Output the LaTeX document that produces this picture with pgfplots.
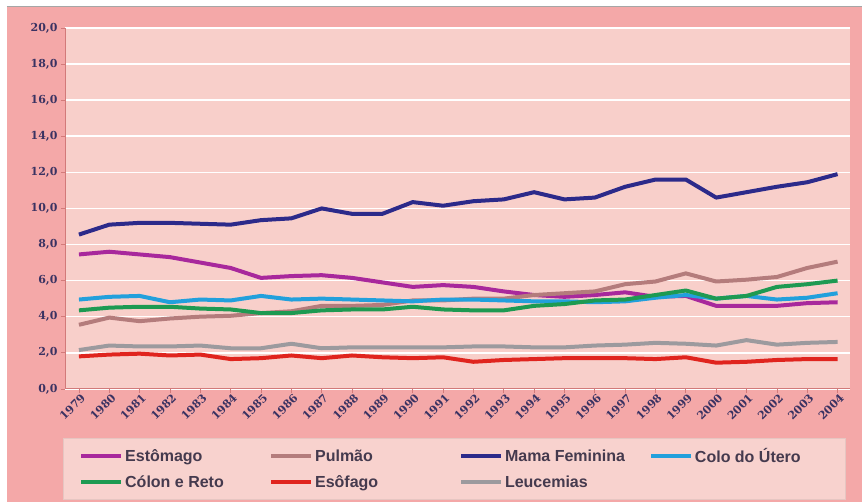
\documentclass[border=0pt]{standalone}
\usepackage{pgfplots}
\pgfplotsset{compat=1.18}
\usepackage{fontspec}
\setmainfont{DejaVu Serif}
\newfontfamily\legfont{Liberation Sans}
\definecolor{outerbg}{HTML}{F4A8A8}
\definecolor{plotbg}{HTML}{F8CFCA}
\definecolor{legbg}{HTML}{F8D2CE}
\definecolor{tickcol}{HTML}{3A3262}
\definecolor{legtext}{HTML}{453A4E}
\definecolor{axcol}{HTML}{D27A7A}
\definecolor{cEst}{HTML}{A8289C}
\definecolor{cPul}{HTML}{B47C7C}
\definecolor{cMam}{HTML}{2C2A8A}
\definecolor{cCol}{HTML}{22A0DC}
\definecolor{cCR}{HTML}{1E9A52}
\definecolor{cEso}{HTML}{E0241E}
\definecolor{cLeu}{HTML}{9C9A9E}
\pgfplotstableread{
year est pul mam col cr eso leu
1979 7.45 3.55 8.55 4.95 4.35 1.80 2.15
1980 7.60 3.95 9.10 5.10 4.50 1.90 2.40
1981 7.45 3.75 9.20 5.15 4.55 1.95 2.35
1982 7.30 3.90 9.20 4.80 4.55 1.85 2.35
1983 7.00 4.00 9.15 4.95 4.45 1.90 2.40
1984 6.70 4.05 9.10 4.90 4.40 1.65 2.25
1985 6.15 4.20 9.35 5.15 4.20 1.70 2.25
1986 6.25 4.30 9.45 4.95 4.20 1.85 2.50
1987 6.30 4.60 10.00 5.00 4.35 1.70 2.25
1988 6.15 4.60 9.70 4.95 4.40 1.85 2.30
1989 5.90 4.65 9.70 4.90 4.40 1.75 2.30
1990 5.65 4.90 10.35 4.85 4.55 1.70 2.30
1991 5.75 4.90 10.15 4.95 4.40 1.75 2.30
1992 5.65 5.00 10.40 4.95 4.35 1.50 2.35
1993 5.40 5.00 10.50 4.90 4.35 1.60 2.35
1994 5.20 5.20 10.90 4.85 4.60 1.65 2.30
1995 5.10 5.30 10.50 4.85 4.70 1.70 2.30
1996 5.20 5.40 10.60 4.80 4.90 1.70 2.40
1997 5.35 5.80 11.20 4.85 4.95 1.70 2.45
1998 5.10 5.95 11.60 5.05 5.20 1.65 2.55
1999 5.15 6.40 11.60 5.20 5.45 1.75 2.50
2000 4.60 5.95 10.60 5.00 5.00 1.45 2.40
2001 4.60 6.05 10.90 5.15 5.15 1.50 2.70
2002 4.60 6.20 11.20 4.95 5.65 1.60 2.45
2003 4.75 6.70 11.45 5.05 5.80 1.65 2.55
2004 4.80 7.05 11.90 5.30 6.00 1.65 2.60
}\datatable
\begin{document}
\begin{tikzpicture}[x=1pt,y=1pt]
\fill[white] (0,0) rectangle (862,502);
\fill[outerbg] (7,0) rectangle (862,495);
\draw[gray!70, line width=0.6pt] (7,495.3) -- (862,495.3);
\begin{axis}[
  at={(65pt,113pt)}, anchor=south west,
  scale only axis, width=785pt, height=361pt,
  xmin=1978.54, xmax=2004.4, ymin=0, ymax=20,
  axis background/.style={fill=plotbg},
  axis x line=bottom, axis y line=left,
  axis line style={-, axcol, line width=0.8pt},
  xtick={1979,...,2004},
  minor x tick num=1,
  ytick={0,2,...,20},
  ymajorgrids, major grid style={white, line width=1.6pt},
  tick style={axcol, line width=0.6pt},
  major tick length=4pt, minor tick length=2.5pt,
  tick align=outside,
  ticklabel style={font=\bfseries\fontsize{11}{12}\selectfont, text=tickcol},
  /pgf/number format/assume math mode=true,
  yticklabel style={/pgf/number format/.cd, fixed, fixed zerofill, precision=1, use comma},
  xticklabel style={rotate=45, anchor=north east, /pgf/number format/1000 sep={}, inner sep=1pt, xshift=2pt, yshift=0pt},
  legend columns=4,
  legend style={at={(-0.0025,-0.1357)}, anchor=north west, fill=legbg, draw=legbg!85!gray,
    font=\legfont\bfseries\fontsize{16}{18}\selectfont, text=legtext,
    inner xsep=16pt, inner ysep=8.5pt, row sep=7.5pt,
    /tikz/every even column/.style={column sep=0pt}},
  legend image code/.code={\draw[#1, line width=4pt] (0pt,0pt) -- (40pt,0pt);},
  legend cell align=left,
  every axis plot/.append style={line width=4pt, line join=round},
  clip=false,
]
\addplot[cEst] table[x=year,y=est] {\datatable};
\addlegendentry{\makebox[142pt][l]{Estômago}}
\addplot[cPul] table[x=year,y=pul] {\datatable};
\addlegendentry{\makebox[142pt][l]{Pulmão}}
\addplot[cMam] table[x=year,y=mam] {\datatable};
\addlegendentry{\makebox[142pt][l]{Mama Feminina}}
\addplot[cCol] table[x=year,y=col] {\datatable};
\addlegendentry{\makebox[132pt][l]{Colo do Útero}}
\addplot[cCR] table[x=year,y=cr] {\datatable};
\addlegendentry{\makebox[142pt][l]{Cólon e Reto}}
\addplot[cEso] table[x=year,y=eso] {\datatable};
\addlegendentry{\makebox[142pt][l]{Esôfago}}
\addplot[cLeu] table[x=year,y=leu] {\datatable};
\addlegendentry{\makebox[142pt][l]{Leucemias}}
\end{axis}
\end{tikzpicture}
\end{document}
